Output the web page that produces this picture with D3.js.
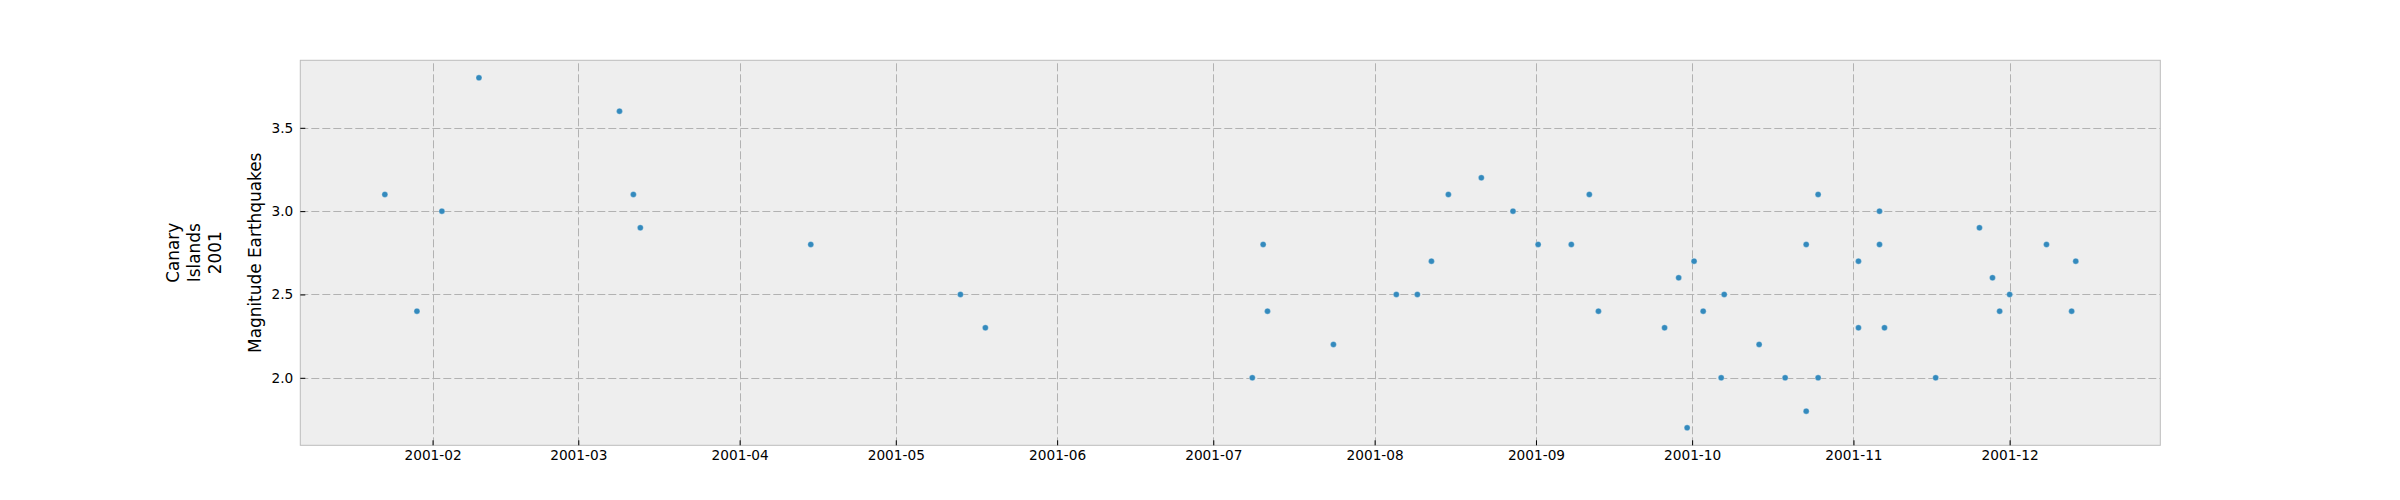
<!DOCTYPE html>
<html>
<head>
<meta charset="utf-8">
<script src="https://cdn.jsdelivr.net/npm/d3@7"></script>
<style>
  body { margin: 0; background: #ffffff; }
  text { font-family: "DejaVu Sans", sans-serif; fill: #000; }
</style>
</head>
<body>
<script>
// Earthquake times (local time)
const quakeTimes = [
  "2001-01-22T20:00", "2001-01-29T00:00", "2001-02-02T19:00", "2001-02-09T22:00",
  "2001-03-08T22:00", "2001-03-11T14:00", "2001-03-12T22:00", "2001-04-14T16:00",
  "2001-05-13T10:00", "2001-05-18T05:00", "2001-07-08T12:00", "2001-07-10T14:00",
  "2001-07-11T10:00", "2001-07-24T02:00", "2001-08-05T04:00", "2001-08-09T05:00",
  "2001-08-11T22:00", "2001-08-15T04:00", "2001-08-21T12:00", "2001-08-27T14:00",
  "2001-09-01T10:00", "2001-09-07T19:00", "2001-09-11T06:00", "2001-09-13T00:00",
  "2001-09-25T17:00", "2001-09-28T10:00", "2001-09-30T01:00", "2001-10-01T09:00",
  "2001-10-03T03:00", "2001-10-06T14:00", "2001-10-07T04:00", "2001-10-13T21:00",
  "2001-10-18T21:00", "2001-10-22T22:00", "2001-10-22T22:00", "2001-10-25T05:00",
  "2001-10-25T05:00", "2001-11-01T23:00", "2001-11-01T23:00", "2001-11-06T00:00",
  "2001-11-06T00:00", "2001-11-06T23:00", "2001-11-16T19:00", "2001-11-25T05:00",
  "2001-11-27T17:00", "2001-11-29T02:00", "2001-12-01T00:00", "2001-12-08T02:00",
  "2001-12-12T22:00", "2001-12-13T17:00"
];
const magnitudes = [
  3.1, 2.4, 3.0, 3.8,
  3.6, 3.1, 2.9, 2.8,
  2.5, 2.3, 2.0, 2.8,
  2.4, 2.2, 2.5, 2.5,
  2.7, 3.1, 3.2, 3.0,
  2.8, 2.8, 3.1, 2.4,
  2.3, 2.6, 1.7, 2.7,
  2.4, 2.0, 2.5, 2.2,
  2.0, 2.8, 1.8, 3.1,
  2.0, 2.7, 2.3, 3.0,
  2.8, 2.3, 2.0, 2.9,
  2.6, 2.4, 2.5, 2.8,
  2.4, 2.7
];
const monthTicks = ["2001-02", "2001-03", "2001-04", "2001-05", "2001-06", "2001-07",
                    "2001-08", "2001-09", "2001-10", "2001-11", "2001-12"];
const magTicks = [2.0, 2.5, 3.0, 3.5];
const titleLines = ["Canary", "Islands", "2001"];
const yLabel = "Magnitude Earthquakes";

const w = 2400, h = 500;
const plotLeft = 300.3, plotRight = 2160.3, plotTop = 60.3, plotBottom = 445.3;

const parseTime = d3.timeParse("%Y-%m-%dT%H:%M");
const parseMonth = d3.timeParse("%Y-%m");
const data = quakeTimes.map((t, i) => ({date: parseTime(t), mag: magnitudes[i]}));

// matplotlib-like 5% margins round the data
const tExt = d3.extent(data, d => +d.date);
const tPad = (tExt[1] - tExt[0]) * 0.05;
const mExt = d3.extent(data, d => d.mag);
const mPad = (mExt[1] - mExt[0]) * 0.05;

const xScale = d3.scaleTime()
  .domain([new Date(tExt[0] - tPad), new Date(tExt[1] + tPad)])
  .range([plotLeft, plotRight]);
const yScale = d3.scaleLinear()
  .domain([mExt[0] - mPad, mExt[1] + mPad])
  .range([plotBottom, plotTop]);

const svg = d3.select("body").append("svg")
  .attr("width", w)
  .attr("height", h);

svg.append("rect")
  .attr("width", w).attr("height", h)
  .attr("fill", "#ffffff");

// plot background
svg.append("rect")
  .attr("x", plotLeft).attr("y", plotTop)
  .attr("width", plotRight - plotLeft).attr("height", plotBottom - plotTop)
  .attr("fill", "#eeeeee");

const monthDates = monthTicks.map(parseMonth);

// grid lines
svg.append("g")
  .selectAll("line")
  .data(monthDates)
  .join("line")
  .attr("x1", d => Math.round(xScale(d)) + 0.5)
  .attr("x2", d => Math.round(xScale(d)) + 0.5)
  .attr("y1", plotBottom)
  .attr("y2", plotTop)
  .attr("stroke", "#b2b2b2")
  .attr("stroke-width", 1)
  .attr("stroke-dasharray", "8,3");

svg.append("g")
  .selectAll("line")
  .data(magTicks)
  .join("line")
  .attr("x1", plotLeft)
  .attr("x2", plotRight)
  .attr("y1", d => Math.round(yScale(d)) + 0.5)
  .attr("y2", d => Math.round(yScale(d)) + 0.5)
  .attr("stroke", "#b2b2b2")
  .attr("stroke-width", 1)
  .attr("stroke-dasharray", "8,3");

// points
svg.append("g")
  .selectAll("circle")
  .data(data)
  .join("circle")
  .attr("cx", d => xScale(d.date))
  .attr("cy", d => yScale(d.mag))
  .attr("r", 3)
  .attr("fill", "#348ABD")
  .attr("stroke", "#ffffff")
  .attr("stroke-opacity", 0.6)
  .attr("stroke-width", 0.5);

// spines
svg.append("rect")
  .attr("x", plotLeft).attr("y", plotTop)
  .attr("width", plotRight - plotLeft).attr("height", plotBottom - plotTop)
  .attr("fill", "none")
  .attr("stroke", "#bcbcbc")
  .attr("stroke-width", 1);

// x axis (ticks point inward)
const xAxis = svg.append("g")
  .attr("transform", `translate(0, ${plotBottom})`)
  .call(d3.axisBottom(xScale)
    .tickValues(monthDates)
    .tickSize(-5)
    .tickPadding(5)
    .tickFormat(d3.timeFormat("%Y-%m")));
xAxis.select(".domain").remove();
xAxis.selectAll(".tick line").attr("stroke", "#000");
xAxis.selectAll("text")
  .attr("font-size", "13.7px")
  .attr("font-family", "DejaVu Sans");

// y axis
const yAxis = svg.append("g")
  .attr("transform", `translate(${plotLeft}, 0)`)
  .call(d3.axisLeft(yScale)
    .tickValues(magTicks)
    .tickSize(-5)
    .tickPadding(7)
    .tickFormat(d3.format(".1f")));
yAxis.select(".domain").remove();
yAxis.selectAll(".tick line").attr("stroke", "#000");
yAxis.selectAll("text")
  .attr("font-size", "13.7px")
  .attr("font-family", "DejaVu Sans");

// y label
const midY = (plotTop + plotBottom) / 2;
svg.append("text")
  .attr("transform", `translate(261, ${midY}) rotate(-90)`)
  .attr("text-anchor", "middle")
  .attr("font-size", "16.9px")
  .text(yLabel);

// side title, one line per rotated row
svg.append("g")
  .selectAll("text")
  .data(titleLines)
  .join("text")
  .attr("transform", (d, i) => `translate(${179 + i * 21}, ${midY}) rotate(-90)`)
  .attr("text-anchor", "middle")
  .attr("font-size", "16.9px")
  .text(d => d);
</script>
</body>
</html>
